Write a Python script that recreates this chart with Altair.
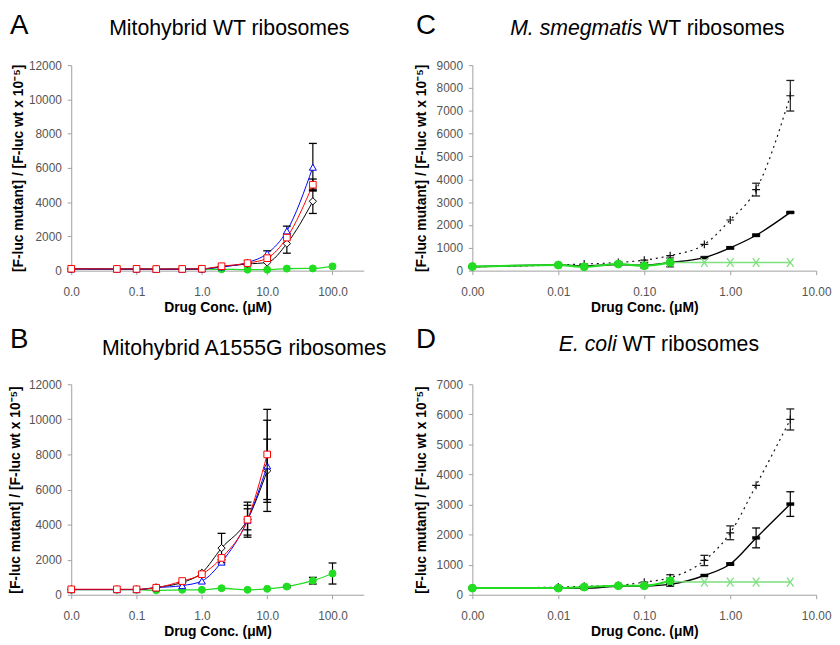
import altair as alt
import pandas as pd

FONT = "Liberation Sans"

# ---------------- Panel A : Mitohybrid WT ribosomes ----------------
A_x = [0.01, 0.05, 0.1, 0.2, 0.5, 1, 2, 5, 10, 20, 50]
A_black = [100, 90, 95, 85, 90, 100, 230, 390, 480, 1580, 4050]
A_black_err = [0, 0, 0, 0, 0, 0, 0, 0, 0, 560, 710]
A_red = [110, 100, 105, 95, 100, 110, 260, 440, 730, 1930, 5020]
A_red_err = [0, 0, 0, 0, 0, 0, 0, 0, 0, 0, 330]
A_blue = [100, 90, 95, 85, 90, 100, 220, 480, 1000, 2320, 6040]
A_blue_err = [0, 0, 0, 0, 0, 0, 0, 0, 160, 280, 1390]
A_green_x = [0.01, 0.05, 0.1, 0.2, 0.5, 1, 2, 5, 10, 20, 50, 100]
A_green = [100, 90, 95, 85, 90, 90, 80, 60, 60, 120, 130, 250]
A_green_err = [0, 0, 0, 0, 0, 0, 0, 0, 0, 0, 0, 0]

# ---------------- Panel B : Mitohybrid A1555G ribosomes ----------------
B_x = [0.01, 0.05, 0.1, 0.2, 0.5, 1, 2, 5, 10]
B_black = [300, 300, 300, 420, 700, 1250, 2660, 4300, 7070]
B_black_err = [0, 0, 0, 0, 0, 0, 840, 600, 1800]
B_red = [310, 310, 310, 400, 780, 1170, 2100, 4280, 8000]
B_red_err = [0, 0, 0, 0, 0, 0, 100, 1000, 2570]
B_blue = [290, 290, 290, 400, 520, 780, 1860, 4250, 7350]
B_blue_err = [0, 0, 0, 0, 0, 0, 0, 850, 2600]
B_green_x = [0.01, 0.05, 0.1, 0.2, 0.5, 1, 2, 5, 10, 20, 50, 100]
B_green = [290, 290, 290, 250, 280, 280, 370, 280, 335, 465, 800, 1210]
B_green_err = [0, 0, 0, 0, 0, 0, 0, 0, 0, 60, 190, 600]

# ---------------- Panel C : M. smegmatis WT ribosomes ----------------
C_x = [0.001, 0.01, 0.02, 0.05, 0.1, 0.2, 0.5, 1, 2, 5]
C_dot = [170, 250, 290, 360, 460, 660, 1150, 2220, 3550, 7660]
C_dot_err = [0, 0, 0, 0, 0, 0, 0, 0, 280, 670]
C_solid = [170, 250, 200, 270, 240, 360, 570, 1000, 1550, 2550]
C_solid_err = [0, 0, 0, 0, 120, 190, 0, 50, 50, 20]
C_green_x = [0.001, 0.01, 0.02, 0.05, 0.1, 0.2]
C_green = [180, 245, 170, 290, 215, 360]
C_cross_x = [0.2, 0.5, 1, 2, 5]
C_cross = [360, 360, 360, 360, 360]

# ---------------- Panel D : E. coli WT ribosomes ----------------
D_x = [0.001, 0.01, 0.02, 0.05, 0.1, 0.2, 0.5, 1, 2, 5]
D_dot = [220, 255, 280, 310, 420, 565, 1140, 2060, 3640, 5830]
D_dot_err = [0, 0, 0, 0, 0, 100, 170, 230, 0, 350]
D_solid = [220, 220, 220, 280, 290, 345, 640, 1020, 1890, 3015]
D_solid_err = [0, 0, 0, 0, 0, 60, 0, 40, 330, 410]
D_green_x = [0.001, 0.01, 0.02, 0.05, 0.1, 0.2]
D_green = [220, 220, 255, 300, 300, 465]
D_cross_x = [0.2, 0.5, 1, 2, 5]
D_cross = [440, 420, 420, 420, 420]

Y_TITLE = "[F-luc mutant] / [F-luc wt x 10\u207b\u2075]"
X_TITLE = "Drug Conc. (\u03bcM)"

PLUS = "M-1,0L1,0M0,-1L0,1"
XMARK = "M-0.75,-1L0.75,1M-0.75,1L0.75,-1"
DASH = "M-1,-0.4L1,-0.4L1,0.4L-1,0.4Z"

GREEN = "#22dd22"
LIGHT_GREEN = "#7ee07e"


def make_encoders(xdomain, xticks, xfmt, ymax, ystep, title_pad):
    xscale = alt.Scale(type="log", domain=xdomain, nice=False)
    yscale = alt.Scale(domain=[0, ymax], nice=False, zero=True)
    xaxis = alt.Axis(values=xticks, format=xfmt, title=X_TITLE)
    yaxis = alt.Axis(values=list(range(0, ymax + 1, ystep)), format="d",
                     title=Y_TITLE, titlePadding=title_pad)

    def X():
        return alt.X("x:Q", scale=xscale, axis=xaxis)

    def Y(field):
        return alt.Y(field + ":Q", scale=yscale, axis=yaxis)

    return X, Y


def series(X, Y, xs, ys, errs, color, shape, size, fill, stroke,
           point_sw=1.0, line_width=1.0, dash=None, err_color="black",
           fill_opacity=1.0):
    df = pd.DataFrame({"x": xs, "y": ys})
    out = []
    lk = dict(color=color, strokeWidth=line_width, interpolate="monotone")
    if dash:
        lk["strokeDash"] = dash
    out.append(alt.Chart(df).mark_line(**lk).encode(x=X(), y=Y("y")))
    if errs and any(e > 0 for e in errs):
        rx, lo, hi, cx, cv = [], [], [], [], []
        for xv, yv, ev in zip(xs, ys, errs):
            if ev > 0:
                rx.append(xv)
                lo.append(yv - ev)
                hi.append(yv + ev)
                cx += [xv, xv]
                cv += [yv - ev, yv + ev]
        dfe = pd.DataFrame({"x": rx, "lo": lo, "hi": hi})
        dfc = pd.DataFrame({"x": cx, "v": cv})
        out.append(alt.Chart(dfe).mark_rule(color=err_color, strokeWidth=1.2)
                   .encode(x=X(), y=Y("lo"), y2="hi:Q"))
        out.append(alt.Chart(dfc).mark_tick(orient="horizontal", size=8,
                                            thickness=1.3, color=err_color,
                                            opacity=1)
                   .encode(x=X(), y=Y("v")))
    out.append(alt.Chart(df).mark_point(shape=shape, size=size, fill=fill,
                                        stroke=stroke, strokeWidth=point_sw,
                                        filled=True, opacity=1,
                                        fillOpacity=fill_opacity)
               .encode(x=X(), y=Y("y")))
    return out


def text_layer(txt, x, y, size, align="left", baseline="alphabetic",
               style="normal"):
    return alt.Chart(pd.DataFrame({"t": [txt]})).mark_text(
        font=FONT, fontSize=size, align=align, baseline=baseline,
        fontStyle=style, color="black").encode(
        text="t:N", x=alt.value(x), y=alt.value(y))


# ---------- Panel A ----------
XA, YA = make_encoders([0.01, 300], [0.01, 0.1, 1, 10, 100], ".1f",
                       12000, 2000, 3)
layers_A = []
layers_A += series(XA, YA, A_green_x, A_green, A_green_err, GREEN, "circle",
                   50, GREEN, GREEN, line_width=1.3)
layers_A += series(XA, YA, A_x, A_black, A_black_err, "black", "diamond",
                   55, "white", "black")
layers_A += series(XA, YA, A_x, A_blue, A_blue_err, "#0000ff",
                   "triangle-up", 50, "white", "#0000ff")
layers_A += series(XA, YA, A_x, A_red, A_red_err, "#ff0000", "square",
                   45, "white", "#ff0000")
layers_A += [text_layer("A", -62, -54, 28, baseline="top"),
             text_layer("Mitohybrid WT ribosomes", 160, -31, 21.5,
                        align="center")]
panel_A = alt.layer(*layers_A).properties(width=296, height=208)

# ---------- Panel B ----------
XB, YB = make_encoders([0.01, 300], [0.01, 0.1, 1, 10, 100], ".1f",
                       12000, 2000, 6)
layers_B = []
layers_B += series(XB, YB, B_green_x, B_green, B_green_err, GREEN, "circle",
                   50, GREEN, GREEN, line_width=1.3)
layers_B += series(XB, YB, B_x, B_black, B_black_err, "black", "diamond",
                   55, "white", "black")
layers_B += series(XB, YB, B_x, B_blue, B_blue_err, "#0000ff",
                   "triangle-up", 50, "white", "#0000ff")
layers_B += series(XB, YB, B_x, B_red, B_red_err, "#ff0000", "square",
                   45, "white", "#ff0000")
layers_B += [text_layer("B", -62, -59, 28, baseline="top"),
             text_layer("Mitohybrid A1555G ribosomes", 175, -29.5, 21.5,
                        align="center")]
panel_B = alt.layer(*layers_B).properties(width=296, height=213)

# ---------- Panel C ----------
XC, YC = make_encoders([0.001, 10], [0.001, 0.01, 0.1, 1, 10], ".2f",
                       9000, 1000, 8)
layers_C = []
layers_C += series(XC, YC, C_x, C_dot, C_dot_err, "#111111", PLUS, 64,
                   "white", "#111111", point_sw=1.2, line_width=1.2,
                   dash=[2, 4], err_color="#222222", fill_opacity=0)
layers_C += series(XC, YC, C_x, C_solid, C_solid_err, "black", DASH, 55,
                   "black", "black", point_sw=0.5, line_width=1.4)
layers_C += series(XC, YC, C_cross_x, C_cross, None, LIGHT_GREEN, XMARK, 80,
                   "white", LIGHT_GREEN, point_sw=1.3, line_width=1.5,
                   fill_opacity=0)
layers_C += series(XC, YC, C_green_x, C_green, None, GREEN, "circle", 64,
                   GREEN, GREEN, line_width=2)
layers_C += [text_layer("C", -57, -54, 28, baseline="top"),
             text_layer("M. smegmatis", 172, -31, 21.5, align="right",
                        style="italic"),
             text_layer("WT ribosomes", 178, -31, 21.5, align="left")]
panel_C = alt.layer(*layers_C).properties(width=348, height=208)

# ---------- Panel D ----------
XD, YD = make_encoders([0.001, 10], [0.001, 0.01, 0.1, 1, 10], ".2f",
                       7000, 1000, 8)
layers_D = []
layers_D += series(XD, YD, D_x, D_dot, D_dot_err, "#111111", PLUS, 64,
                   "white", "#111111", point_sw=1.2, line_width=1.2,
                   dash=[2, 4], err_color="#222222", fill_opacity=0)
layers_D += series(XD, YD, D_x, D_solid, D_solid_err, "black", DASH, 55,
                   "black", "black", point_sw=0.5, line_width=1.4)
layers_D += series(XD, YD, D_cross_x, D_cross, None, LIGHT_GREEN, XMARK, 80,
                   "white", LIGHT_GREEN, point_sw=1.3, line_width=1.5,
                   fill_opacity=0)
layers_D += series(XD, YD, D_green_x, D_green, None, GREEN, "circle", 64,
                   GREEN, GREEN, line_width=2)
layers_D += [text_layer("D", -57, -59, 28, baseline="top"),
             text_layer("E. coli", 146, -33.5, 21.5, align="right",
                        style="italic"),
             text_layer("WT ribosomes", 152, -33.5, 21.5, align="left")]
panel_D = alt.layer(*layers_D).properties(width=348, height=213)

chart = alt.concat(panel_A, panel_C, panel_B, panel_D, columns=2,
                   spacing={"row": 115, "column": 110},
                   bounds="flush").properties(padding=0)

chart = chart.configure_view(stroke=None).configure_axis(
    grid=False,
    domainColor="#a0a0a0",
    tickColor="#a0a0a0",
    tickSize=4,
    labelColor="#555555",
    labelFont=FONT,
    labelFontSize=12,
    titleFont=FONT,
    titleFontSize=14,
    titleFontWeight="bold",
    titleColor="black",
    labelFlush=False,
    labelOverlap=False,
).configure_axisX(labelPadding=12, titlePadding=3).configure_axisY(
    labelPadding=6)

chart.save("out.html", embed_options={"renderer": "svg", "actions": False})
